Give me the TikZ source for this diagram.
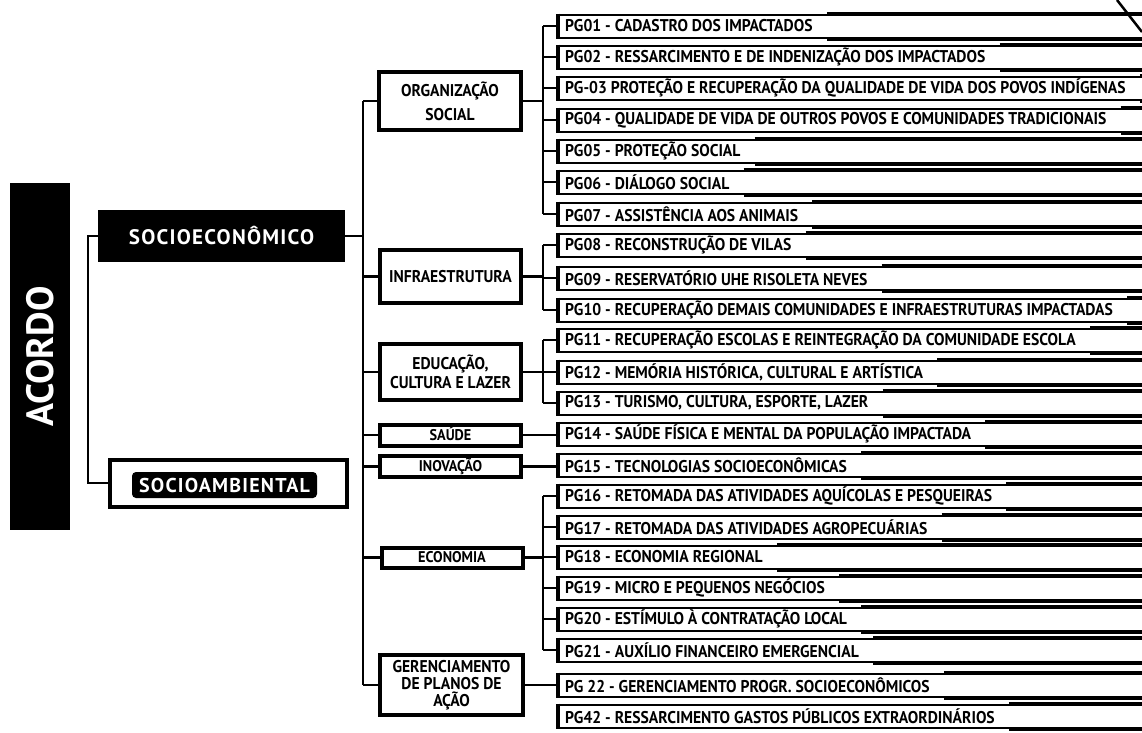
\documentclass[tikz,border=0pt]{standalone}
\usepackage{fontspec}
\setmainfont{PT Sans}
\newfontfamily\pgfont[FakeStretch=0.92]{PT Sans}
\newfontfamily\widefont[LetterSpace=6]{PT Sans}
\usetikzlibrary{calc}
\newcommand\pgb[3]{%
  \node[pgbox] (#1) at (558,#2) {};
  \draw[line width=4pt] (#1.north west) -- (#1.south west);
  \node[pgtext] (#1t) at ($(#1.west)+(7,0)$) {#3};
  \draw[bar] ($(#1t.east |- #1.north)+(14,0)$) -- (#1.north east);
  \draw[bar] ($(#1t.east |- #1.south)+(14,0)$) -- (#1.south east);
}
\begin{document}
\begin{tikzpicture}[x=1pt,y=-1pt,
  conn/.style={line width=2.5pt},
  pgbox/.style={draw, line width=2pt, anchor=west, minimum width=620pt, minimum height=23pt, inner sep=0pt, fill=white},
  pgtext/.style={anchor=west, inner sep=0pt, font=\pgfont\bfseries\fontsize{17}{17}\selectfont},
  catbox/.style={draw, line width=4.5pt, fill=white, align=center, inner sep=0pt, font=\pgfont\bfseries\fontsize{17}{19}\selectfont},
  onecat/.style={catbox, text height=12pt, text depth=0pt},
  smallcat/.style={catbox, line width=4pt, text height=10.5pt, text depth=0pt, font=\pgfont\bfseries\fontsize{15.5}{15.5}\selectfont},
  bar/.style={line width=4pt},
]
\useasboundingbox (0,0) rectangle (1142,732);
\clip (0,0) rectangle (1142,732);
\fill[white] (0,0) rectangle (1142,732);

% level 0 and 1
\node[fill=black, rotate=90, minimum width=347pt, minimum height=60pt, inner sep=0pt, text=white,
  font=\bfseries\fontsize{38}{38}\selectfont] (acordo) at (40,356.5) {ACORDO};
\node[fill=black, text=white, minimum width=247pt, minimum height=52pt, inner sep=0pt,
  font=\widefont\bfseries\fontsize{21}{21}\selectfont] (socioeco) at (221.5,236) {SOCIOECONÔMICO};
\node[draw, line width=4pt, fill=white, minimum width=237pt, minimum height=47pt, inner sep=0pt] (socioamb) at (228,483) {};
\node[fill=black, text=white, rounded corners=4pt, minimum width=185pt, minimum height=26pt, inner sep=0pt,
  font=\widefont\bfseries\fontsize{20}{20}\selectfont] (socioambt) at (224.5,485) {SOCIOAMBIENTAL};

% level 2
\node[catbox, minimum width=142pt, minimum height=58pt] (org) at (450,101) {ORGANIZAÇÃO\\[5pt]SOCIAL};
\node[onecat, minimum width=141pt, minimum height=53pt] (infra) at (450.5,276.5) {INFRAESTRUTURA};
\node[catbox, minimum width=141pt, minimum height=56pt] (edu) at (450.5,372) {EDUCAÇÃO,\\CULTURA E LAZER};
\node[smallcat, minimum width=141pt, minimum height=21pt] (saude) at (450.5,435) {SAÚDE};
\node[smallcat, minimum width=141pt, minimum height=21pt] (inov) at (450.5,466.5) {INOVAÇÃO};
\node[smallcat, minimum width=141pt, minimum height=20pt] (econ) at (452,557.5) {ECONOMIA};
\node[catbox, minimum width=143pt, minimum height=60pt, font=\pgfont\bfseries\fontsize{17}{17}\selectfont] (ger) at (451.5,685) {GERENCIAMENTO\\DE PLANOS DE\\AÇÃO};

% level 3
\pgb{pg01}{26}{PG01 - CADASTRO DOS IMPACTADOS}
\pgb{pg02}{57}{PG02 - RESSARCIMENTO E DE INDENIZAÇÃO DOS IMPACTADOS}
\pgb{pg03}{88}{PG-03 PROTEÇÃO E RECUPERAÇÃO DA QUALIDADE DE VIDA DOS POVOS INDÍGENAS}
\pgb{pg04}{120}{PG04 - QUALIDADE DE VIDA DE OUTROS POVOS E COMUNIDADES TRADICIONAIS}
\pgb{pg05}{151}{PG05 - PROTEÇÃO SOCIAL}
\pgb{pg06}{182}{PG06 - DIÁLOGO SOCIAL}
\pgb{pg07}{214}{PG07 - ASSISTÊNCIA AOS ANIMAIS}
\pgb{pg08}{245}{PG08 - RECONSTRUÇÃO DE VILAS}
\pgb{pg09}{278}{PG09 - RESERVATÓRIO UHE RISOLETA NEVES}
\pgb{pg10}{310}{PG10 - RECUPERAÇÃO DEMAIS COMUNIDADES E INFRAESTRUTURAS IMPACTADAS}
\pgb{pg11}{340}{PG11 - RECUPERAÇÃO ESCOLAS E REINTEGRAÇÃO DA COMUNIDADE ESCOLA}
\pgb{pg12}{372}{PG12 - MEMÓRIA HISTÓRICA, CULTURAL E ARTÍSTICA}
\pgb{pg13}{403}{PG13 - TURISMO, CULTURA, ESPORTE, LAZER}
\pgb{pg14}{434}{PG14 - SAÚDE FÍSICA E MENTAL DA POPULAÇÃO IMPACTADA}
\pgb{pg15}{465}{PG15 - TECNOLOGIAS SOCIOECONÔMICAS}
\pgb{pg16}{496}{PG16 - RETOMADA DAS ATIVIDADES AQUÍCOLAS E PESQUEIRAS}
\pgb{pg17}{527}{PG17 - RETOMADA DAS ATIVIDADES AGROPECUÁRIAS}
\pgb{pg18}{557}{PG18 - ECONOMIA REGIONAL}
\pgb{pg19}{588}{PG19 - MICRO E PEQUENOS NEGÓCIOS}
\pgb{pg20}{619}{PG20 - ESTÍMULO À CONTRATAÇÃO LOCAL}
\pgb{pg21}{650}{PG21 - AUXÍLIO FINANCEIRO EMERGENCIAL}
\pgb{pg22}{685}{PG 22 - GERENCIAMENTO PROGR. SOCIOECONÔMICOS}
\pgb{pg42}{716}{PG42 - RESSARCIMENTO GASTOS PÚBLICOS EXTRAORDINÁRIOS}

% connectors
\coordinate (b1) at (88,0);
\coordinate (b2) at (363,0);
\coordinate (b3) at (543,0);
\draw[conn] (socioeco.west) -- (socioeco.west -| b1) -- (socioamb.west -| b1) -- (socioamb.west);
\draw[conn] (socioeco.east) -- (socioeco.east -| b2);
\draw[conn] (b2 |- org.west) -- (b2 |- ger.west);
\foreach \c in {org,infra,edu,saude,inov,econ,ger}
  \draw[conn] (b2 |- \c.west) -- (\c.west);
\foreach \c/\a/\b in {org/pg01/pg07, infra/pg08/pg10, edu/pg11/pg13, econ/pg16/pg21}{
  \draw[conn] (\c.east) -- (\c.east -| b3);
  \draw[conn] (b3 |- \a.west) -- (b3 |- \b.west);
}
\foreach \p in {pg01,pg02,pg03,pg04,pg05,pg06,pg07,pg08,pg09,pg10,pg11,pg12,pg13,pg16,pg17,pg18,pg19,pg20,pg21}
  \draw[conn] (b3 |- \p.west) -- (\p.west);
\foreach \c/\p in {saude/pg14, inov/pg15, ger/pg22}
  \draw[conn] (\c.east) -- (\c.east -| \p.west);

% stray stroke at the top right corner
\coordinate (s1) at (1117,0);
\coordinate (s2) at (1142,32);
\draw[line width=2.5pt] (s1) -- (s2);
\end{tikzpicture}
\end{document}
